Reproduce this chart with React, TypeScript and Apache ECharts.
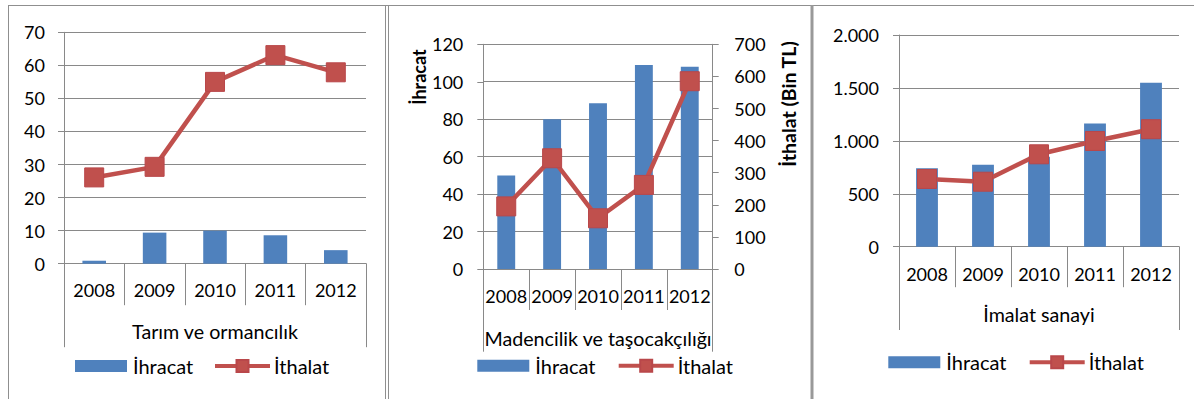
import React, { useEffect, useRef } from "react";
import * as echarts from "echarts";

const years = ["2008", "2009", "2010", "2011", "2012"];

const tarimIhracat = [0.9, 9.4, 10.0, 8.6, 4.1];
const tarimIthalat = [26.1, 29.3, 55.0, 63.1, 57.9];

const madenIhracat = [50, 80, 88.5, 109, 108];
const madenIthalat = [195, 345, 158, 262, 585];

const imalatIhracat = [740, 775, 850, 1165, 1550];
const imalatIthalat = [640, 614, 873, 999, 1110];

const groupLabels = ["Tarım ve ormancılık", "Madencilik ve taşocakçılığı", "İmalat sanayi"];
const seriesNames = ["İhracat", "İthalat"];

const FONT = 'Lato, "Open Sans", sans-serif';
const GRID_COLOR = "#898989";
const BLUE = "#4F81BD";
const RED = "#C0504D";

const fmtThousands = (v: number) =>
  v >= 1000 ? Math.floor(v / 1000) + "." + String(v % 1000).padStart(3, "0") : String(v);

export default function App() {
  const ref = useRef<HTMLDivElement>(null);

  useEffect(() => {
    if (!ref.current) return;
    const chart = echarts.init(ref.current, null, { renderer: "svg" });

    const grids = [
      { left: 64, top: 32.3, width: 302, height: 231.4 },
      { left: 483.3, top: 44.3, width: 229.4, height: 224.7 },
      { left: 899, top: 35, width: 280, height: 211.7 },
    ];

    const labelMargins = [17, 17.5, 18];
    const tickLens = [41.5, 41, 40.5];
    const outerLens = [83.5, 82.7, 83.3];
    const groupMargins = [58, 59, 58];

    const xAxes: any[] = [];
    grids.forEach((_, i) => {
      xAxes.push({
        type: "category",
        gridIndex: i,
        data: years,
        axisLine: { show: true, lineStyle: { color: GRID_COLOR, width: 1 } },
        axisTick: { show: true, length: tickLens[i], interval: 0, lineStyle: { color: GRID_COLOR } },
        axisLabel: { color: "#000", fontSize: 18, fontFamily: FONT, margin: labelMargins[i], interval: 0 },
      });
    });
    grids.forEach((_, i) => {
      xAxes.push({
        type: "category",
        gridIndex: i,
        position: "bottom",
        data: [groupLabels[i]],
        axisLine: { show: false },
        axisTick: { show: true, length: outerLens[i], lineStyle: { color: GRID_COLOR } },
        axisLabel: { color: "#000", fontSize: 19.7, fontFamily: FONT, margin: groupMargins[i] },
      });
    });

    const yBase = {
      type: "value",
      axisLine: { show: true, lineStyle: { color: GRID_COLOR, width: 1 } },
      axisTick: { show: true, length: 6, lineStyle: { color: GRID_COLOR } },
      splitLine: { show: true, lineStyle: { color: GRID_COLOR, width: 1 } },
      axisLabel: { color: "#000", fontSize: 18, fontFamily: FONT, margin: 19 },
    };

    const yAxes: any[] = [
      { ...yBase, gridIndex: 0, min: 0, max: 70, interval: 10 },
      { ...yBase, gridIndex: 1, min: 0, max: 120, interval: 20, axisLabel: { ...yBase.axisLabel, margin: 20 } },
      {
        ...yBase,
        gridIndex: 1,
        position: "right",
        min: 0,
        max: 700,
        interval: 100,
        splitLine: { show: false },
        axisLabel: { ...yBase.axisLabel, margin: 21.6 },
      },
      {
        ...yBase,
        gridIndex: 2,
        min: 0,
        max: 2000,
        interval: 500,
        axisLabel: { ...yBase.axisLabel, margin: 20, formatter: fmtThousands },
      },
    ];

    const barSeries = (data: number[], xi: number, yi: number) => ({
      name: seriesNames[0],
      type: "bar",
      xAxisIndex: xi,
      yAxisIndex: yi,
      data,
      barWidth: "39%",
      itemStyle: { color: BLUE },
    });
    const lineSeries = (data: number[], xi: number, yi: number) => ({
      name: seriesNames[1],
      type: "line",
      xAxisIndex: xi,
      yAxisIndex: yi,
      data,
      symbol: "rect",
      symbolSize: 19,
      lineStyle: { color: RED, width: 4.5 },
      itemStyle: { color: RED, borderColor: "#B9474A", borderWidth: 1 },
    });

    const legendPos = [
      { bar: 75, line: 213, cy: 367 },
      { bar: 477.3, line: 616.7, cy: 366.7 },
      { bar: 888.3, line: 1027.7, cy: 363.3 },
    ];
    const legends: any[] = [];
    legendPos.forEach((p) => {
      legends.push({
        data: [{ name: seriesNames[0], icon: "rect" }],
        left: p.bar,
        top: p.cy - 11,
        padding: 0,
        itemWidth: 52,
        itemHeight: 12,
        selectedMode: false,
        textStyle: { color: "#000", fontSize: 20, fontFamily: FONT, padding: [0, 0, 0, 1] },
      });
      legends.push({
        data: [{ name: seriesNames[1] }],
        left: p.line,
        top: p.cy - 11,
        padding: 0,
        itemWidth: 55,
        itemHeight: 15,
        selectedMode: false,
        lineStyle: { width: 4 },
        textStyle: { color: "#000", fontSize: 20, fontFamily: FONT, padding: [0, 0, 0, -1] },
      });
    });

    const borderStyle = { stroke: "#8f8f8f", lineWidth: 1 };

    chart.setOption({
      animation: false,
      backgroundColor: "#fff",
      textStyle: { fontFamily: FONT },
      grid: grids,
      xAxis: xAxes,
      yAxis: yAxes,
      legend: legends,
      series: [
        barSeries(tarimIhracat, 0, 0),
        lineSeries(tarimIthalat, 0, 0),
        barSeries(madenIhracat, 1, 1),
        lineSeries(madenIthalat, 1, 2),
        barSeries(imalatIhracat, 2, 3),
        lineSeries(imalatIthalat, 2, 3),
      ],
      graphic: [
        { type: "line", shape: { x1: 8, y1: 5.5, x2: 1194, y2: 5.5 }, style: borderStyle, silent: true },
        { type: "line", shape: { x1: 8.5, y1: 5, x2: 8.5, y2: 399 }, style: borderStyle, silent: true },
        { type: "line", shape: { x1: 385.5, y1: 5, x2: 385.5, y2: 399 }, style: borderStyle, silent: true },
        { type: "line", shape: { x1: 388.5, y1: 5, x2: 388.5, y2: 399 }, style: borderStyle, silent: true },
        { type: "line", shape: { x1: 812, y1: 5, x2: 812, y2: 399 }, style: { stroke: "#999", lineWidth: 3 }, silent: true },
        {
          type: "text",
          x: 419,
          y: 77,
          rotation: Math.PI / 2,
          style: {
            text: "İhracat",
            fill: "#000",
            font: `bold 18px ${FONT}`,
            align: "center",
            verticalAlign: "middle",
          },
        },
        {
          type: "text",
          x: 788,
          y: 104,
          rotation: Math.PI / 2,
          style: {
            text: "İthalat (Bin TL)",
            fill: "#000",
            font: `bold 19.5px ${FONT}`,
            align: "center",
            verticalAlign: "middle",
          },
        },
      ],
    });

    return () => chart.dispose();
  }, []);

  return (
    <div
      ref={ref}
      style={{ position: "absolute", left: 0, top: 0, width: 1194, height: 399, background: "#fff" }}
    />
  );
}
